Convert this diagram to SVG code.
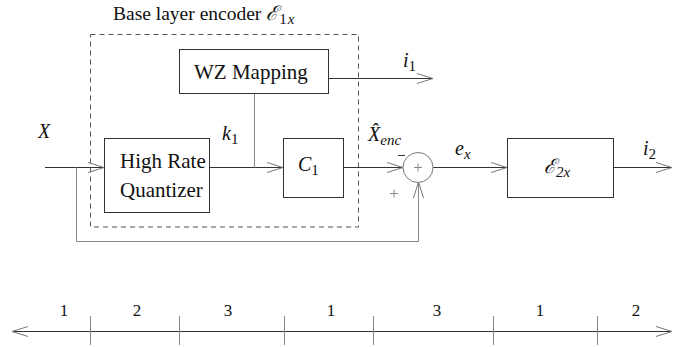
<svg xmlns="http://www.w3.org/2000/svg" width="682" height="347" viewBox="0 0 682 347" font-family="'Liberation Serif', 'Times New Roman', serif">
<defs>
<style>
.box{fill:none;stroke:#333;stroke-width:1}
.ln{fill:none;stroke:#333;stroke-width:1}
.gl{fill:none;stroke:#888;stroke-width:1}
.dash{fill:none;stroke:#555;stroke-width:1;stroke-dasharray:5 4}
text{font-family:'Liberation Serif','Times New Roman',serif;fill:#111}
.lbl{font-size:21px}
.m{font-style:italic;font-size:20px}
.sub{font-size:15px}
.up{font-style:normal}
.num{font-size:17px;text-anchor:middle}
</style>
<marker id="ah" markerUnits="userSpaceOnUse" markerWidth="18" markerHeight="12" refX="16" refY="5" orient="auto" overflow="visible">
<path d="M0,0 L16,5 L0,10" fill="none" stroke="#777" stroke-width="1"/>
</marker>
<marker id="ahs" markerUnits="userSpaceOnUse" markerWidth="18" markerHeight="12" refX="16" refY="5" orient="auto-start-reverse" overflow="visible">
<path d="M0,0 L16,5 L0,10" fill="none" stroke="#777" stroke-width="1"/>
</marker>
</defs>

<g id="title">
<text x="113" y="20" font-size="19.5">Base layer encoder <tspan class="m" font-size="22">ℰ</tspan><tspan class="sub" dy="4" dx="1">1</tspan><tspan class="m sub" dx="1">x</tspan></text>
</g>

<g id="encoder-boundary">
<rect class="dash" x="90.5" y="34.5" width="268" height="192.5"/>
</g>

<g id="connectors">
<path class="ln" d="M45,167.5 H104" marker-end="url(#ah)"/>
<path class="gl" d="M76.5,167.5 V241.5 H418.5 V182" marker-end="url(#ah)"/>
<path class="ln" d="M209,167.5 H283" marker-end="url(#ah)"/>
<path class="gl" d="M254.5,93 V167.5"/>
<path class="ln" d="M328,78.5 H433" marker-end="url(#ah)"/>
<path class="ln" d="M343,167.5 H403" marker-end="url(#ah)"/>
<path class="ln" d="M433,167.5 H507" marker-end="url(#ah)"/>
<path class="ln" d="M613,167.5 H672" marker-end="url(#ah)"/>
</g>

<g id="hrq">
<rect class="box" x="104.5" y="138.5" width="105" height="74"/>
<text class="lbl" x="120" y="168">High Rate</text>
<text class="lbl" x="120" y="197">Quantizer</text>
</g>

<g id="wz">
<rect class="box" x="179.5" y="49.5" width="149" height="44"/>
<text class="lbl" x="194" y="79">WZ Mapping</text>
</g>

<g id="c1">
<rect class="box" x="283.5" y="138.5" width="60" height="59"/>
<text class="m" x="298" y="171">C<tspan class="sub up" dy="4">1</tspan></text>
</g>

<g id="sum">
<circle cx="418" cy="167.5" r="15" fill="none" stroke="#777" stroke-width="1"/>
<path class="gl" d="M414,167.5 H422 M418,163.5 V171.5"/>
<path class="ln" d="M398,155.5 H405"/>
<path class="gl" d="M390,193.5 H398 M394,189.5 V197.5"/>
</g>

<g id="e2x">
<rect class="box" x="507.5" y="138.5" width="106" height="59"/>
<text class="m" x="544" y="173" font-size="22">ℰ<tspan class="sub" dy="4">2x</tspan></text>
</g>

<g id="labels">
<text class="m" x="38" y="138">X</text>
<text class="m" x="222" y="140">k<tspan class="sub up" dy="4">1</tspan></text>
<text class="m" x="403" y="67">i<tspan class="sub up" dy="4">1</tspan></text>
<text class="m" x="368" y="141">X̂<tspan class="sub" dy="4">enc</tspan></text>
<text class="m" x="455" y="155">e<tspan class="sub" dy="4">x</tspan></text>
<text class="m" x="643" y="155">i<tspan class="sub up" dy="4">2</tspan></text>
</g>

<g id="number-line">
<path class="ln" d="M12,331.5 H672" marker-start="url(#ahs)" marker-end="url(#ahs)"/>
<path class="gl" d="M90.5,316 V345 M179.5,316 V345 M284.5,316 V345 M373.5,316 V345 M493.5,316 V345 M597.5,316 V345"/>
<text class="num" x="64" y="316">1</text>
<text class="num" x="137" y="316">2</text>
<text class="num" x="228" y="316">3</text>
<text class="num" x="331" y="316">1</text>
<text class="num" x="437" y="316">3</text>
<text class="num" x="540" y="316">1</text>
<text class="num" x="636" y="316">2</text>
</g>
</svg>
